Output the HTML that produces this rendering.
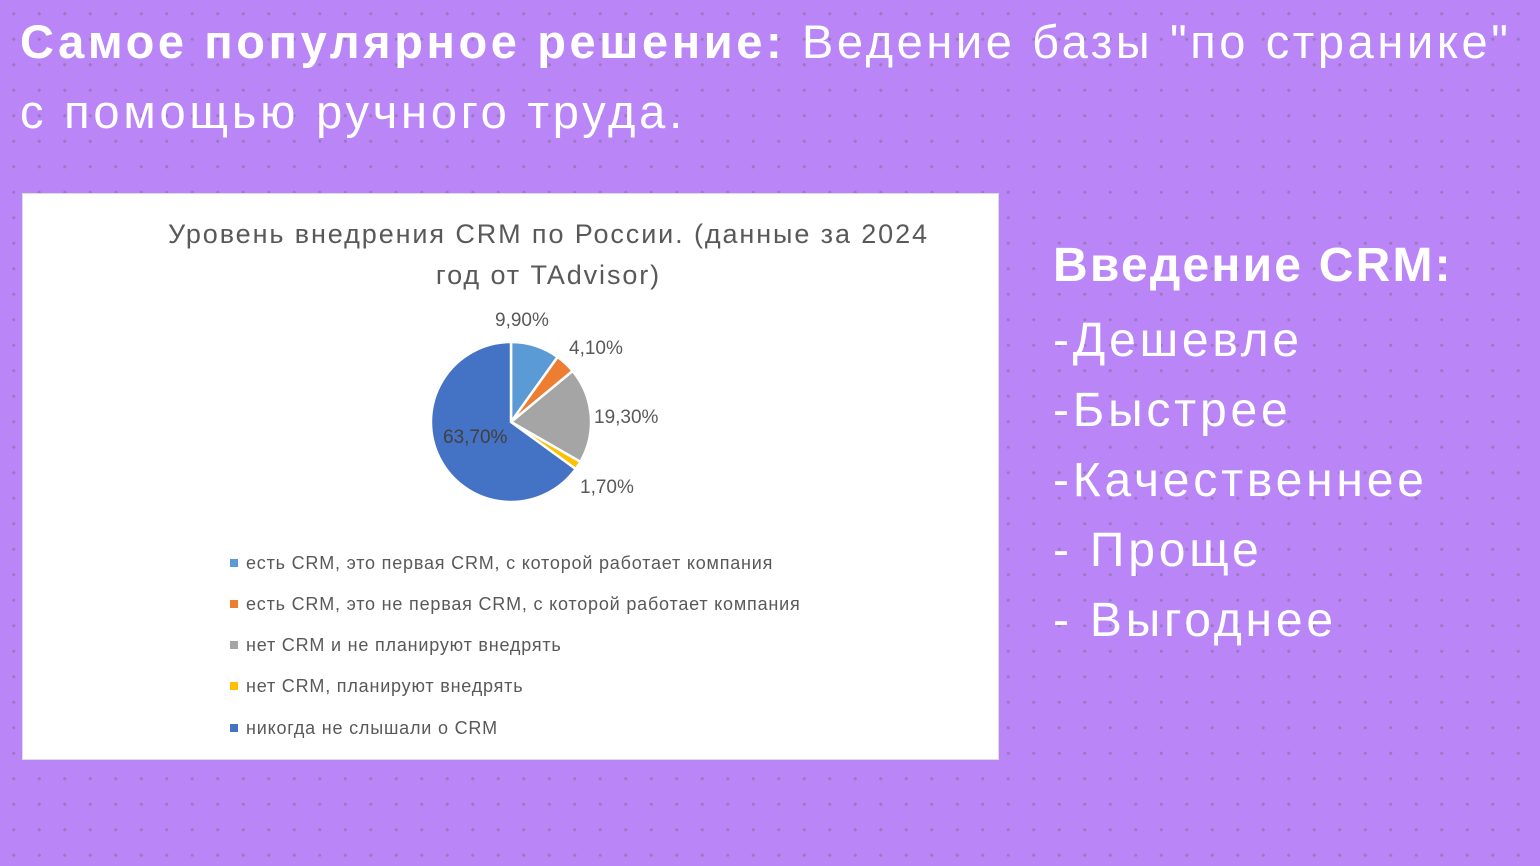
<!DOCTYPE html>
<html><head><meta charset="utf-8"><style>
body{margin:0;width:1540px;height:866px;overflow:hidden;background-color:#b985f7;
background-image:radial-gradient(circle,#9a7ab8 1.3px,transparent 1.8px);background-size:25.5px 25.5px;background-position:1px 1px;
font-family:"Liberation Sans","DejaVu Sans",sans-serif;position:relative}
.t{position:absolute;color:#fff;white-space:nowrap}
.box{position:absolute;left:22px;top:193px;width:975px;height:565px;background:#fff;border:1px solid #ddd}
.lg{position:absolute;left:207px;font-size:18px;color:#595959;white-space:nowrap;letter-spacing:0.8px}
.lg i{display:inline-block;width:8px;height:8px;margin-right:8px;vertical-align:2px}
</style></head><body>
<div class="t" style="left:20px;top:14px;font-size:47px;letter-spacing:3.6px"><b>Самое популярное решение:</b> Ведение базы "по странике"</div>
<div class="t" style="left:20px;top:84px;font-size:47px;letter-spacing:3.8px">с помощью ручного труда.</div>
<div class="box">
<div style="position:absolute;left:76px;width:899px;top:20px;text-align:center;font-size:27px;color:#595959;line-height:41px;letter-spacing:1.9px">Уровень внедрения CRM по России. (данные за 2024<br>год от TAdvisor)</div>
<svg width="975" height="565" style="position:absolute;left:0;top:0" viewBox="22 193 975 565">
<g stroke="#fff" stroke-width="2.5">
<path d="M510 421 L510 341 A80 80 0 0 1 556.6 356 Z" fill="#5b9bd5"/>
<path d="M510 421 L556.6 356 A80 80 0 0 1 571.6 370 Z" fill="#ed7d31"/>
<path d="M510 421 L571.6 370 A80 80 0 0 1 579.4 460.8 Z" fill="#a5a5a5"/>
<path d="M510 421 L579.4 460.8 A80 80 0 0 1 574.7 468 Z" fill="#ffc000"/>
<path d="M510 421 L574.7 468 A80 80 0 1 1 510 341 Z" fill="#4472c4"/>
</g>
<g font-size="19" fill="#595959">
<text x="494" y="325">9,90%</text>
<text x="568" y="353">4,10%</text>
<text x="593" y="422">19,30%</text>
<text x="579" y="492">1,70%</text>
<text x="442" y="442" fill="#404040">63,70%</text>
</g></svg>
<div class="lg" style="top:359px"><i style="background:#5b9bd5"></i>есть CRM, это первая CRM, с которой работает компания</div>
<div class="lg" style="top:400px"><i style="background:#ed7d31"></i>есть CRM, это не первая CRM, с которой работает компания</div>
<div class="lg" style="top:441px"><i style="background:#a5a5a5"></i>нет CRM и не планируют внедрять</div>
<div class="lg" style="top:482px"><i style="background:#ffc000"></i>нет CRM, планируют внедрять</div>
<div class="lg" style="top:524px"><i style="background:#4472c4"></i>никогда не слышали о CRM</div>
</div>
<div class="t" style="left:1053px;top:238px;font-size:48px;font-weight:bold;letter-spacing:2.2px">Введение CRM:</div>
<div class="t" style="left:1053px;top:306px;font-size:48px;line-height:70px;letter-spacing:3.8px">-Дешевле<br>-Быстрее<br>-Качественнее<br>- Проще<br>- Выгоднее</div>
</body></html>
